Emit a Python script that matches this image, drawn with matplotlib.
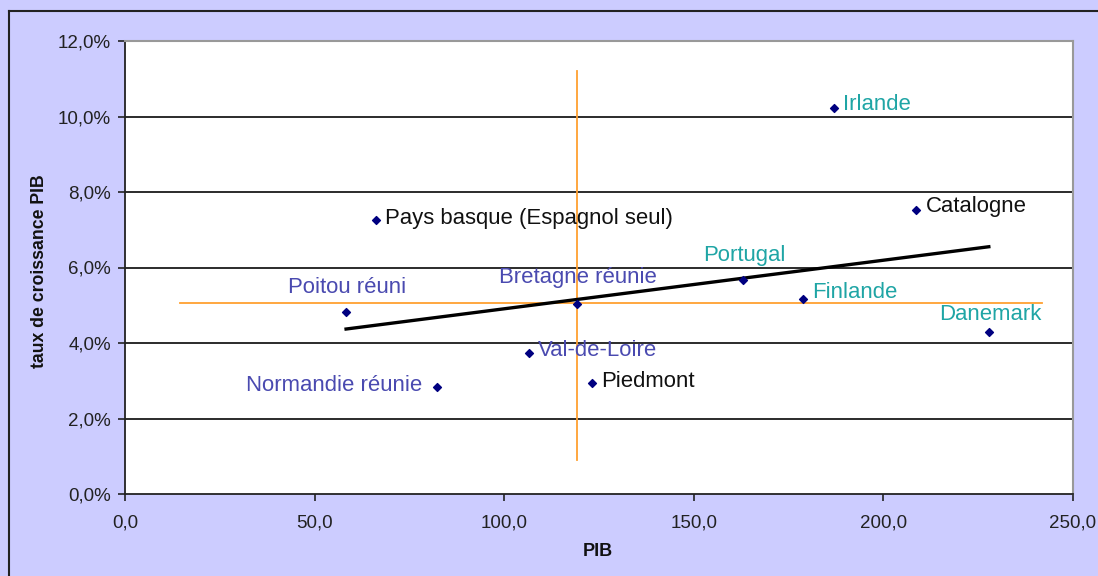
import matplotlib.pyplot as plt
import numpy as np
from matplotlib.lines import Line2D
from matplotlib.ticker import FuncFormatter

plt.rcParams['font.family'] = ['Liberation Sans', 'DejaVu Sans']

# Data: PIB vs growth rate (%)
regions = ["Irlande", "Catalogne", "Portugal", "Finlande", "Danemark",
           "Pays basque (Espagnol seul)", "Poitou réuni", "Bretagne réunie",
           "Val-de-Loire", "Piedmont", "Normandie réunie"]
pib = [187.0, 208.7, 163.1, 178.9, 227.8, 66.2, 58.3, 119.3, 106.5, 123.1, 82.2]
croissance = [10.23, 7.51, 5.67, 5.17, 4.30, 7.26, 4.81, 5.03, 3.74, 2.93, 2.84]
groups = ["pays", "autre", "pays", "pays", "pays", "autre", "fr", "fr", "fr", "autre", "fr"]

# orange reference cross
cross_x = 119.3
cross_y_range = [0.9, 11.2]
cross_y = 5.06
cross_x_range = [14.5, 241.7]

# trend line endpoints
trend_x = [58.3, 227.8]
trend_y = [4.37, 6.55]

colors = {"pays": "#1fa5a5", "fr": "#4a4ab0", "autre": "#111111"}

# label placement: side, vertical offset in pixels
placement = {
    "Irlande": ("right", 3),
    "Catalogne": ("right", 4),
    "Pays basque (Espagnol seul)": ("right", 1),
    "Piedmont": ("right", 2),
    "Val-de-Loire": ("right", 2),
    "Finlande": ("right", 6),
    "Normandie réunie": ("left", 1),
    "Poitou réuni": ("above", 25),
    "Bretagne réunie": ("above", 27),
    "Portugal": ("above", 24),
    "Danemark": ("above", 17),
}

fig = plt.figure(figsize=(10.98, 5.76), dpi=100, facecolor='#ccccff')
ax = fig.add_axes([125 / 1098, 1 - 494 / 576, 948 / 1098, 453 / 576])
ax.set_facecolor('white')

for y in [2, 4, 6, 8, 10]:
    ax.axhline(y, color='#1a1a1a', lw=1.3, zorder=1)

ax.plot([cross_x, cross_x], cross_y_range, color='#ffa030', lw=1.3, zorder=2)
ax.plot(cross_x_range, [cross_y, cross_y], color='#ffa030', lw=1.3, zorder=2)
ax.plot(trend_x, trend_y, color='black', lw=2.4, zorder=3)

ax.scatter(pib, croissance, marker='D', s=16, color='#000080', zorder=4)

for name, x, y, g in zip(regions, pib, croissance, groups):
    side, dy = placement[name]
    if side == "right":
        ax.annotate(name, (x, y), xytext=(9, dy), textcoords='offset pixels',
                    ha='left', va='center', fontsize=15.9, color=colors[g])
    elif side == "left":
        ax.annotate(name, (x, y), xytext=(-14, dy), textcoords='offset pixels',
                    ha='right', va='center', fontsize=15.9, color=colors[g])
    else:
        ax.annotate(name, (x, y), xytext=(1, dy), textcoords='offset pixels',
                    ha='center', va='center', fontsize=15.9, color=colors[g])

ax.set_xlim(0, 250)
ax.set_ylim(0, 12)
ax.set_xticks([0, 50, 100, 150, 200, 250])
ax.set_yticks([0, 2, 4, 6, 8, 10, 12])
ax.xaxis.set_major_formatter(FuncFormatter(lambda v, p: f"{v:.1f}".replace('.', ',')))
ax.yaxis.set_major_formatter(FuncFormatter(lambda v, p: f"{v:.1f}%".replace('.', ',')))
ax.tick_params(axis='both', direction='out', length=5, width=1.2, labelsize=13.5,
               color='#222222', labelcolor='#222222')
ax.tick_params(axis='x', pad=10)
ax.tick_params(axis='y', pad=5)

for s in ['left', 'bottom']:
    ax.spines[s].set_color('#222222')
    ax.spines[s].set_linewidth(1.3)
for s in ['top', 'right']:
    ax.spines[s].set_color('#999999')
    ax.spines[s].set_linewidth(1.5)

fig.text(598 / 1098, 1 - 552 / 576, "PIB", ha='center', va='center',
         fontsize=13, fontweight='bold', color='#111111')
fig.text(40 / 1098, 1 - 271 / 576, "taux de croissance PIB", ha='center', va='center',
         rotation=90, fontsize=12.7, fontweight='bold', color='#111111')

fig.add_artist(Line2D([9 / 1098, 1], [1 - 11 / 576, 1 - 11 / 576], color='#222222', lw=1.5))
fig.add_artist(Line2D([9 / 1098, 9 / 1098], [0, 1 - 11 / 576], color='#222222', lw=1.5))

fig.savefig('out.png', dpi=100, facecolor=fig.get_facecolor())
